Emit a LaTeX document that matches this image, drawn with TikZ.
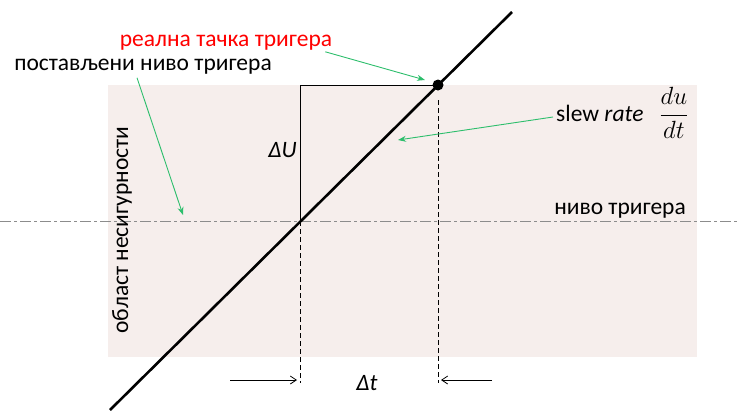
\documentclass[tikz,border=0pt]{standalone}
\usepackage{fontspec}
\setmainfont{Carlito}
\usetikzlibrary{arrows.meta}
\definecolor{zonefill}{HTML}{F6EEEC}
\definecolor{pointer}{HTML}{2DBE6C}
\begin{document}
\begin{tikzpicture}[x=1pt,y=-1pt,
  every node/.style={font=\fontsize{23.5}{28}\selectfont,inner sep=1pt},
  signal/.style={line width=2.6pt,black},
  guide/.style={line width=.8pt,black},
  marker/.style={guide,dash pattern=on 5pt off 3pt},
  level/.style={line width=1pt,black!45,dash pattern=on 11pt off 3pt on 3pt off 3pt},
  pointer/.style={-{Stealth[length=8pt,width=6pt]},draw=pointer,line width=.9pt},
  span/.style={-{Straight Barb[length=6pt,width=8pt]},line width=.8pt}
]
\useasboundingbox (0,0) rectangle (739,410);
\fill[zonefill] (108,85) rectangle (697,357);
% trigger level
\coordinate (lvlL) at (0,221);
\coordinate (lvlR) at (739,221);
\draw[level] (lvlL) -- (lvlR);
% signal edge
\coordinate (sigA) at (110,410);
\coordinate (sigB) at (512,12);
\coordinate (cross) at (300,221);
\coordinate (real) at (438,85);
\coordinate (cornerU) at (300,85);
\coordinate (baseL) at (300,383);
\coordinate (baseR) at (438,383);
\coordinate (topR) at (438,100);
\draw[signal] (sigA) -- (sigB);
\fill (real) circle (5.5);
\draw[guide] (cross) -- (cornerU) -- (real);
\draw[marker] (cross) -- (baseL);
\draw[marker] (topR) -- (baseR);
% labels
\node[anchor=east] (du) at (298,150) {\textit{ΔU}};
\node (dt) at (367,383) {\textit{Δt}};
\coordinate (inL) at (230,380);
\coordinate (inLend) at (297,380);
\coordinate (inR) at (492,380);
\coordinate (inRend) at (441,380);
\draw[span] (inL) -- (inLend);
\draw[span] (inR) -- (inRend);
\node[text=red] (realtxt) at (226,43) {реална тачка тригера};
\node (settxt) at (143,67) {постављени ниво тригера};
\node[anchor=west] (slew) at (555,113) {slew \textit{rate}\hspace{16pt}$\displaystyle\frac{du}{dt}$};
\node[anchor=east] (lvltxt) at (687,211) {ниво тригера};
\node[rotate=90] (zone) at (122,230) {област несигурности};
% pointers
\coordinate (realtip) at (425,80);
\coordinate (settip) at (183,215);
\coordinate (slewtip) at (398,140);
\draw[pointer] (realtxt.south east) ++(-8,0) -- (realtip);
\draw[pointer] (settxt.south) ++(-6,2) -- (settip);
\draw[pointer] (slew.west) ++(-2,4) -- (slewtip);
\end{tikzpicture}
\end{document}
